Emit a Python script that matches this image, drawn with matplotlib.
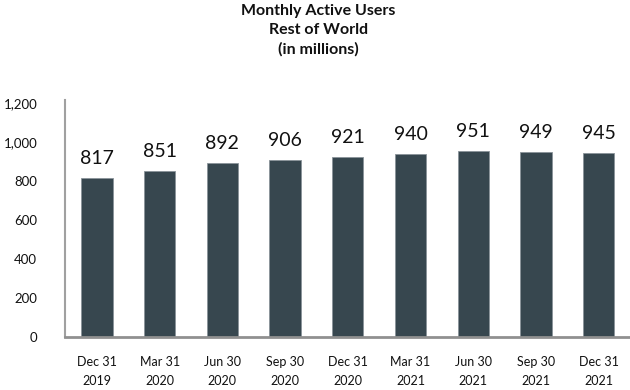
import matplotlib
matplotlib.use("Agg")
import matplotlib.pyplot as plt
from matplotlib.ticker import FuncFormatter

quarters = ["Dec 31\n2019", "Mar 31\n2020", "Jun 30\n2020", "Sep 30\n2020", "Dec 31\n2020",
            "Mar 31\n2021", "Jun 30\n2021", "Sep 30\n2021", "Dec 31\n2021"]
users = [817, 851, 892, 906, 921, 940, 951, 949, 945]
yticks = [0, 200, 400, 600, 800, 1000, 1200]

plt.rcParams['font.family'] = ['Lato', 'DejaVu Sans']

fig = plt.figure(figsize=(6.3, 3.9), dpi=100)
ax = fig.add_axes([65 / 630, 53 / 390, 565 / 630, 237 / 390])

x = list(range(len(users)))
bars = ax.bar(x, users, width=0.5, color='#37474f', edgecolor='#8a9399', linewidth=0.6)

for xi, v in zip(x, users):
    ax.annotate(str(v), (xi, v), xytext=(0, 8), textcoords='offset points',
                ha='center', va='bottom', fontsize=14, color='#111111')

ax.set_xlim(-0.51, 8.5)
ax.set_ylim(0, 1215)
ax.set_yticks(yticks)
ax.yaxis.set_major_formatter(FuncFormatter(lambda v, p: f"{int(v):,}"))
ax.set_xticks(x)
ax.set_xticklabels(quarters, linespacing=1.65)
ax.tick_params(axis='y', length=0, pad=20, labelsize=9.5, labelcolor='#111111')
ax.tick_params(axis='x', length=0, pad=14, labelsize=9, labelcolor='#111111')

for s in ['top', 'right']:
    ax.spines[s].set_visible(False)
ax.spines['left'].set_color('#a0a0a0')
ax.spines['left'].set_linewidth(1.5)
ax.spines['bottom'].set_color('#909090')
ax.spines['bottom'].set_linewidth(2)

fig.text(0.505, 0.99, "Monthly Active Users\nRest of World\n(in millions)", ha='center', va='top',
         fontsize=11.5, fontweight='bold', linespacing=1.45, color='#111111')

fig.savefig("out.png", dpi=100)
